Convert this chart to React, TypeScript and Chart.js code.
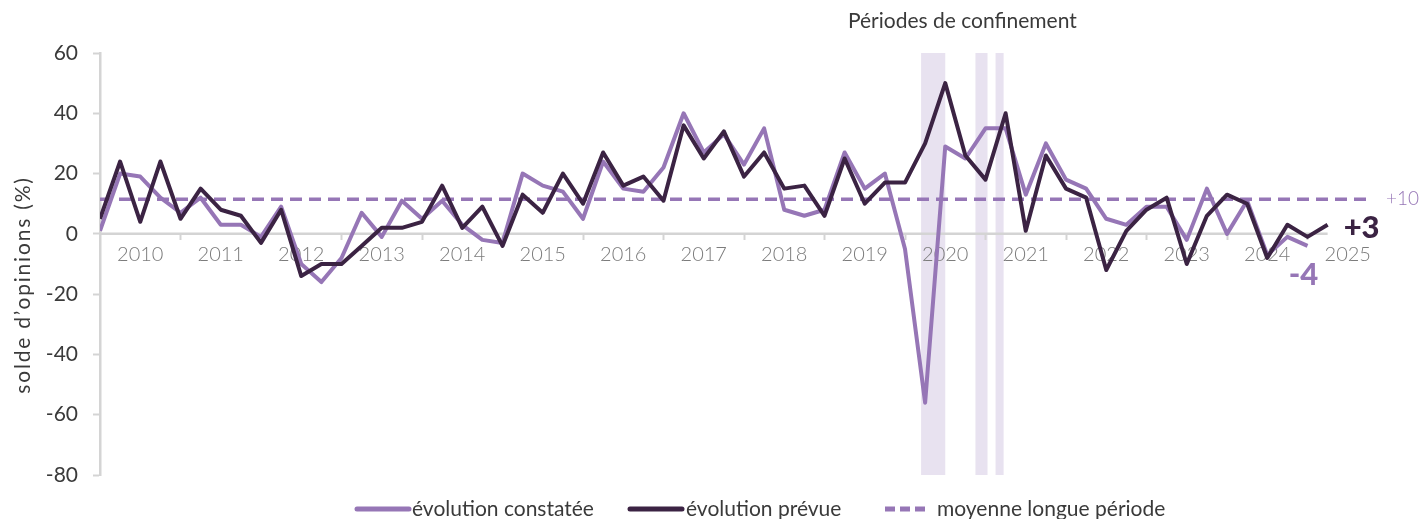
import { useEffect, useRef } from 'react';
import { Chart, registerables } from 'chart.js';

Chart.register(...registerables);

// ---- Data (quarterly, index 0 = 2010 Q1) ----
const years = [2010, 2011, 2012, 2013, 2014, 2015, 2016, 2017, 2018, 2019, 2020, 2021, 2022, 2023, 2024, 2025];

const observed = [
  1, 20, 19, 12, 7, 12, 3, 3, -1, 9, -10, -16, -8, 7, -1, 11, 5, 11, 3, -2,
  -3, 20, 16, 14, 5, 24, 15, 14, 22, 40, 27, 33, 23, 35, 8, 6, 8, 27, 15, 20,
  -5, -56, 29, 25, 35, 35, 13, 30, 18, 15, 5, 3, 9, 9, -2, 15, 0, 11, -7, -1,
  -4,
];

const expected = [
  5, 24, 4, 24, 5, 15, 8, 6, -3, 8, -14, -10, -10, -4, 2, 2, 4, 16, 2, 9,
  -4, 13, 7, 20, 10, 27, 16, 19, 11, 36, 25, 34, 19, 27, 15, 16, 6, 25, 10, 17,
  17, 30, 50, 26, 18, 40, 1, 26, 15, 12, -12, 1, 8, 12, -10, 6, 13, 10, -8, 3,
  -1, 3,
];

const meanValue = 11.5;
const meanLabel = '+10';
const meanEnd = 63.25;

const lockdownStart = [40.8, 43.5, 44.5];
const lockdownEnd = [42.0, 44.1, 44.9];
const lockdownTitle = 'Périodes de confinement';

const legendLabels = ['évolution constatée', 'évolution prévue', 'moyenne longue période'];
const yTitle = 'solde d’opinions (%)';

const yMin = -80;
const yMax = 60;
const yStep = 20;
const xMax = 64;

// ---- Styles ----
const PURPLE = '#9676b6';
const DARK = '#3b2343';
const BAND = '#e8e2f0';
const GREY = '#d4d4d4';
const TEXT = '#3a3a3a';
const YEAR_TEXT = '#7c7c7c';
const FONT = 'Lato, "Open Sans", sans-serif';

const fmtSigned = (v: number) => (v > 0 ? '+' + v : String(v));

const overlayPlugin = {
  id: 'overlay',
  beforeDraw(chart: any) {
    const { ctx, chartArea, scales } = chart;
    const x = scales.x;
    ctx.save();
    ctx.fillStyle = BAND;
    lockdownStart.forEach((s, i) => {
      const x0 = x.getPixelForValue(s);
      const x1 = x.getPixelForValue(lockdownEnd[i]);
      ctx.fillRect(x0, chartArea.top, x1 - x0, chartArea.bottom - chartArea.top);
    });
    ctx.restore();
  },
  afterDraw(chart: any) {
    const { ctx, chartArea, scales } = chart;
    const x = scales.x;
    const y = scales.y;
    ctx.save();

    // lockdown title
    const c0 = x.getPixelForValue(lockdownStart[0]);
    const c1 = x.getPixelForValue(lockdownEnd[lockdownEnd.length - 1]);
    ctx.fillStyle = TEXT;
    ctx.font = `400 21px ${FONT}`;
    ctx.textAlign = 'center';
    ctx.textBaseline = 'middle';
    ctx.fillText(lockdownTitle, (c0 + c1) / 2, chartArea.top - 32);

    // y title
    ctx.save();
    ctx.translate(23, 285);
    ctx.rotate(-Math.PI / 2);
    ctx.font = `400 21px ${FONT}`;
    try {
      (ctx as any).letterSpacing = '1.8px';
    } catch (e) {
      /* ignore */
    }
    ctx.fillStyle = TEXT;
    ctx.fillText(yTitle, 0, 0);
    try {
      (ctx as any).letterSpacing = '0px';
    } catch (e) {
      /* ignore */
    }
    ctx.restore();

    // mean label
    ctx.textAlign = 'left';
    ctx.fillStyle = PURPLE;
    ctx.font = `300 19px ${FONT}`;
    ctx.fillText(meanLabel, x.getPixelForValue(meanEnd) + 13, y.getPixelForValue(meanValue));

    // last values
    const le = expected.length - 1;
    ctx.fillStyle = DARK;
    ctx.font = `900 31px ${FONT}`;
    ctx.fillText(fmtSigned(expected[le]), x.getPixelForValue(le) + 16, y.getPixelForValue(expected[le]) + 3);

    const lo = observed.length - 1;
    ctx.fillStyle = PURPLE;
    ctx.textAlign = 'center';
    ctx.fillText(fmtSigned(observed[lo]), x.getPixelForValue(lo) - 4, y.getPixelForValue(observed[lo]) + 29);

    // legend
    const ly = 509;
    const items = [
      { label: legendLabels[0], color: PURPLE, dash: [] as number[], x0: 357, len: 52, tx: 412 },
      { label: legendLabels[1], color: DARK, dash: [] as number[], x0: 630, len: 52, tx: 686 },
      { label: legendLabels[2], color: PURPLE, dash: [10, 5], x0: 885, len: 40, tx: 937 },
    ];
    items.forEach((it) => {
      ctx.beginPath();
      ctx.setLineDash(it.dash);
      ctx.lineCap = it.dash.length ? 'butt' : 'round';
      ctx.lineWidth = 5;
      ctx.strokeStyle = it.color;
      ctx.moveTo(it.x0, ly);
      ctx.lineTo(it.x0 + it.len, ly);
      ctx.stroke();
      ctx.setLineDash([]);
      ctx.fillStyle = TEXT;
      ctx.font = `400 21px ${FONT}`;
      ctx.textAlign = 'left';
      ctx.textBaseline = 'middle';
      ctx.fillText(it.label, it.tx, ly);
    });

    ctx.restore();
  },
};

export default function App() {
  const canvasRef = useRef<HTMLCanvasElement | null>(null);

  useEffect(() => {
    if (!canvasRef.current) return;
    const toXY = (arr: number[]) => arr.map((v, i) => ({ x: i, y: v }));
    const chart = new Chart(canvasRef.current, {
      type: 'line',
      data: {
        datasets: [
          {
            label: legendLabels[1],
            data: toXY(expected),
            borderColor: DARK,
            borderWidth: 4,
            borderJoinStyle: 'round',
            pointRadius: 0,
            tension: 0,
          },
          {
            label: legendLabels[0],
            data: toXY(observed),
            borderColor: PURPLE,
            borderWidth: 4,
            borderJoinStyle: 'round',
            pointRadius: 0,
            tension: 0,
          },
          {
            label: legendLabels[2],
            data: [
              { x: 0, y: meanValue },
              { x: meanEnd, y: meanValue },
            ],
            borderColor: PURPLE,
            borderWidth: 3.5,
            borderDash: [12, 7],
            pointRadius: 0,
          },
          {
            label: 'zero',
            data: [
              { x: 0, y: 0 },
              { x: expected.length - 1, y: 0 },
            ],
            borderColor: GREY,
            borderWidth: 2.5,
            pointRadius: 0,
          },
        ],
      },
      options: {
        animation: false,
        responsive: true,
        maintainAspectRatio: false,
        events: [],
        layout: { padding: { left: 0, top: 53, right: 35, bottom: 44 } },
        plugins: {
          legend: { display: false },
          tooltip: { enabled: false },
        },
        scales: {
          x: {
            type: 'linear',
            min: 0,
            max: xMax,
            position: { y: 0 } as any,
            border: { display: false },
            grid: {
              drawOnChartArea: false,
              drawTicks: true,
              tickLength: 6,
              tickWidth: 2,
              tickColor: (ctx: any) => {
                const v = ctx.tick ? ctx.tick.value : -1;
                return v % 4 === 0 && v > 0 && v < xMax ? GREY : 'rgba(0,0,0,0)';
              },
            },
            ticks: {
              stepSize: 2,
              autoSkip: false,
              maxRotation: 0,
              padding: 3,
              color: YEAR_TEXT,
              font: { family: FONT, size: 20, weight: '300' as any },
              callback: (v: any) => {
                const n = Number(v);
                if (n % 4 !== 2) return '';
                const yr = years[(n - 2) / 4];
                return yr === undefined ? '' : String(yr);
              },
            },
          },
          y: {
            type: 'linear',
            min: yMin,
            max: yMax,
            afterFit: (scale: any) => {
              scale.width = 100;
            },
            border: { display: true, color: GREY, width: 2.5 },
            grid: {
              drawOnChartArea: false,
              drawTicks: true,
              tickLength: 7,
              tickWidth: 2,
              tickColor: GREY,
            },
            ticks: {
              stepSize: yStep,
              padding: 15,
              color: TEXT,
              font: { family: FONT, size: 21, weight: '400' as any },
            },
          },
        },
      },
      plugins: [overlayPlugin],
    });
    return () => chart.destroy();
  }, []);

  return (
    <div style={{ position: 'fixed', left: 0, top: 0, width: 1423, height: 519 }}>
      <canvas ref={canvasRef} />
    </div>
  );
}
